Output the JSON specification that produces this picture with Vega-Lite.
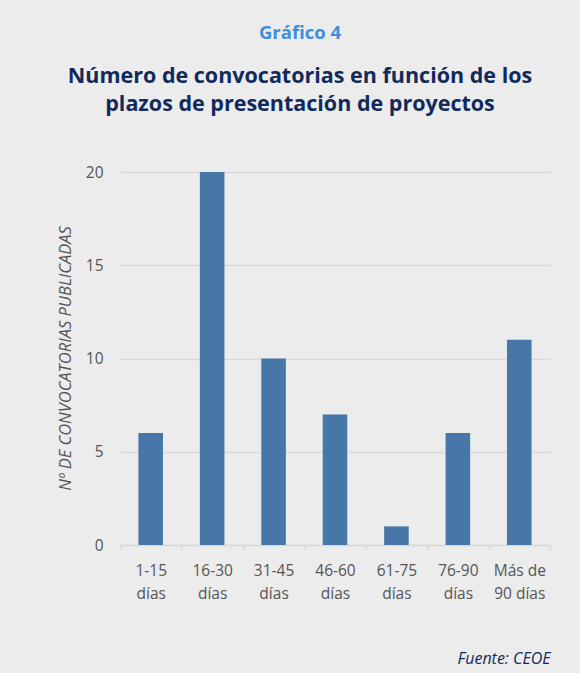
{
  "$schema": "https://vega.github.io/schema/vega-lite/v6.json",
  "width": 430,
  "height": 373,
  "autosize": {"type": "none"},
  "padding": {"left": 120, "top": 172, "right": 30, "bottom": 128},
  "background": "#ececec",
  "title": {
    "text": "Gráfico 4",
    "subtitle": ["Número de convocatorias en función de los", "plazos de presentación de proyectos"],
    "anchor": "middle",
    "dx": -35,
    "offset": 50,
    "font": "Open Sans",
    "fontSize": 18.5,
    "fontWeight": "bold",
    "color": "#3d8fd9",
    "subtitleFont": "Open Sans",
    "subtitleFontSize": 21.5,
    "subtitleFontWeight": "bold",
    "subtitleColor": "#102a5c",
    "subtitleLineHeight": 28,
    "subtitlePadding": 23
  },
  "data": {
    "values": [
      {"plazo": "1-15|días", "n": 6},
      {"plazo": "16-30|días", "n": 20},
      {"plazo": "31-45|días", "n": 10},
      {"plazo": "46-60|días", "n": 7},
      {"plazo": "61-75|días", "n": 1},
      {"plazo": "76-90|días", "n": 6},
      {"plazo": "Más de|90 días", "n": 11}
    ]
  },
  "mark": {"type": "bar", "color": "#4677a8", "width": {"band": 0.4}},
  "encoding": {
    "x": {
      "field": "plazo",
      "type": "nominal",
      "sort": null,
      "scale": {"paddingInner": 0, "paddingOuter": 0},
      "axis": {
        "title": "Fuente: CEOE",
        "titleFont": "Open Sans",
        "titleFontStyle": "italic",
        "titleFontWeight": "normal",
        "titleFontSize": 16,
        "titleColor": "#102a5c",
        "titleAlign": "right",
        "titleAnchor": null,
        "titleX": 430,
        "titleY": 118,
        "titleBaseline": "alphabetic",
        "labelAngle": 0,
        "labelExpr": "split(datum.label, '|')",
        "labelFont": "Open Sans",
        "labelFontSize": 15.5,
        "labelColor": "#555555",
        "labelLineHeight": 23,
        "labelPadding": 13,
        "tickBand": "extent",
        "tickColor": "#d9d9d9",
        "tickWidth": 1.5,
        "tickSize": 5,
        "domainColor": "#d9d9d9",
        "domainWidth": 1.5,
        "grid": false
      }
    },
    "y": {
      "field": "n",
      "type": "quantitative",
      "scale": {"domain": [0, 20], "nice": false},
      "axis": {
        "title": "Nº DE CONVOCATORIAS PUBLICADAS",
        "titleFont": "Open Sans",
        "titleFontStyle": "italic",
        "titleFontWeight": "normal",
        "titleFontSize": 16.5,
        "titleColor": "#555555",
        "titleX": -55,
        "titleY": 186,
        "titleAlign": "center",
        "titleBaseline": "middle",
        "values": [0, 5, 10, 15, 20],
        "labelFont": "Open Sans",
        "labelFontSize": 15.5,
        "labelColor": "#555555",
        "labelPadding": 17,
        "ticks": false,
        "domain": false,
        "gridColor": "#d9d9d9",
        "gridWidth": 1.5
      }
    }
  },
  "config": {"view": {"stroke": null}}
}
